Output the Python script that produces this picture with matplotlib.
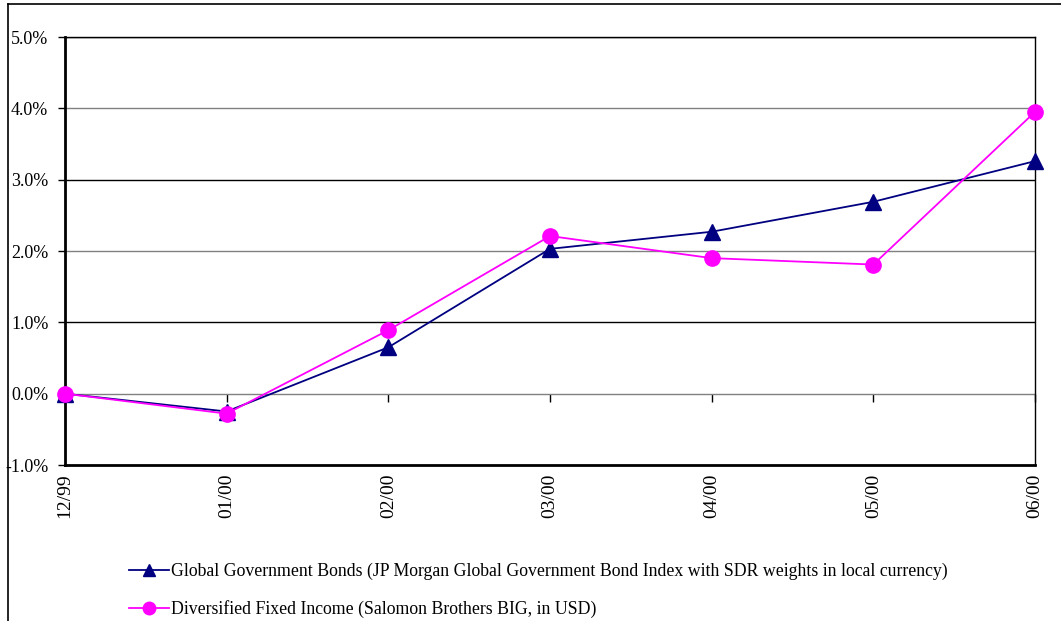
import matplotlib.pyplot as plt
from matplotlib.lines import Line2D
from matplotlib.ticker import FuncFormatter

months = ['12/99', '01/00', '02/00', '03/00', '04/00', '05/00', '06/00']
global_bonds = [0.00, -0.25, 0.65, 2.03, 2.27, 2.69, 3.26]
diversified = [0.00, -0.28, 0.89, 2.21, 1.90, 1.81, 3.95]
y_ticks = [-1, 0, 1, 2, 3, 4, 5]

plt.rcParams['font.family'] = 'Liberation Serif'

fig = plt.figure(figsize=(10.61, 6.21), dpi=100)
ax = fig.add_axes([65 / 1061, 1 - 465 / 621, 970 / 1061, 428 / 621])

x = list(range(len(months)))
ax.plot(x, global_bonds, color='#000080', lw=1.3, marker='^', ms=11,
        clip_on=False, zorder=3,
        label='Global Government Bonds (JP Morgan Global Government Bond Index with SDR weights in local currency)')
ax.plot(x, diversified, color='#FF00FF', lw=1.3, marker='o', ms=11,
        clip_on=False, zorder=4,
        label='Diversified Fixed Income (Salomon Brothers BIG, in USD)')

ax.set_xlim(0, len(months) - 1)
ax.set_ylim(-1, 5)
ax.set_yticks(y_ticks)
ax.yaxis.set_major_formatter(FuncFormatter(lambda v, p: f'{v:.1f}%'))
ax.tick_params(axis='y', direction='out', length=5, width=1, labelsize=13, pad=7)

# gridlines, alternating dark and grey like the old spreadsheet export
for v in y_ticks[1:]:
    ax.axhline(v, color='#808080' if v % 2 == 0 else 'black', lw=1, zorder=1)

# month labels sit under the frame, tick marks hang off the zero line
ax.set_xticks(x)
ax.set_xticklabels(months, rotation=90, va='top', ha='center')
ax.tick_params(axis='x', length=0, labelsize=14, pad=6)
zero_axis = ax.secondary_xaxis(1 / 6)
zero_axis.set_xticks(x)
zero_axis.set_xticklabels([])
zero_axis.spines['bottom'].set_visible(False)
zero_axis.tick_params(axis='x', direction='out', length=6, width=1, color='black')

for side in ['left', 'bottom']:
    ax.spines[side].set_linewidth(2)
for side in ['top', 'right']:
    ax.spines[side].set_linewidth(1)

leg = fig.legend(loc='upper left', bbox_to_anchor=(129 / 1061, 1 - 563 / 621),
                 frameon=False, fontsize=12.8, handlelength=2.25, handletextpad=0.1,
                 labelspacing=1.1, borderpad=0, borderaxespad=0)
for h in leg.legend_handles:
    h.set_markersize(9)

# chart area border along the top and left edges
fig.add_artist(Line2D([8 / 1061, 8 / 1061], [0, 1 - 4 / 621], color='black', lw=1.2))
fig.add_artist(Line2D([8 / 1061, 1], [1 - 4 / 621, 1 - 4 / 621], color='black', lw=1.2))

fig.savefig('out.png', dpi=100)
